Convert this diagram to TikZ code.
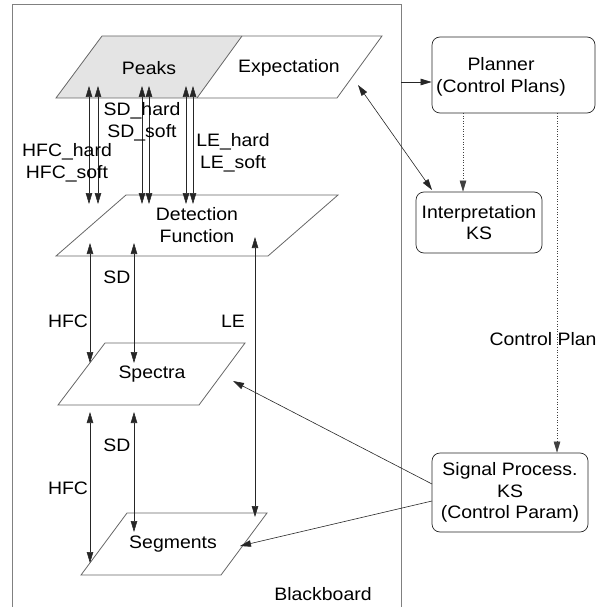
\documentclass[tikz,border=0pt]{standalone}
\usepackage{fontspec}
\setmainfont{Liberation Sans}[FakeStretch=1.08]
\usetikzlibrary{arrows.meta}
\definecolor{peakfill}{RGB}{228,228,228}
\begin{document}
\begin{tikzpicture}[x=1pt,y=-1pt,
  plane/.style={draw=black!60, line width=0.8pt},
  bb/.style={draw=black!50, line width=1pt},
  tipa/.tip={Triangle[length=11pt,width=6.5pt]},
  arr/.style={draw=black!85, line width=0.6pt, tipa-tipa},
  sarr/.style={draw=black!85, line width=0.6pt, -tipa},
  dots/.style={draw=black!75, line width=0.6pt, dotted, -tipa},
  lbl/.style={font=\fontsize{18}{21.5}\selectfont, align=center, inner sep=0pt},
  ks/.style={draw=black!85, rounded corners=8pt, line width=0.7pt, inner sep=0pt}]
\useasboundingbox (0,0) rectangle (597,607);

% Blackboard frame
\draw[bb] (12,607) -- (12,5) -- (401,5) -- (401,607);
\node[lbl] (bbtext) at (323,594) {Blackboard};

% Peaks / Expectation plane
\fill[peakfill] (102,36) -- (242,36) -- (197,98) -- (56,98) -- cycle;
\draw[plane] (102,36) -- (382,36) -- (337,98) -- (56,98) -- cycle;
\draw[plane] (242,36) -- (197,98);
\node[lbl] (peaks) at (149,68) {Peaks};
\node[lbl] (expect) at (289,68) {Expectation};

% Detection function plane
\draw[plane] (126,195) -- (338,195) -- (268,256) -- (56,256) -- cycle;
\node[lbl] (detect) at (197,225) {Detection\\Function};

% Spectra plane
\draw[plane] (105,343) -- (245,343) -- (199,405) -- (58,405) -- cycle;
\node[lbl] (spectra) at (152,374) {Spectra};

% Segments plane
\draw[plane] (127,513) -- (267,513) -- (221,575) -- (81,575) -- cycle;
\node[lbl] (segments) at (173,544) {Segments};

% Peaks <-> Detection arrows
\foreach \x [count=\i] in {89,98,142,149,186,193} {
  \coordinate (pk\i) at (\x,86);
  \coordinate (df\i) at (\x,204);
  \draw[arr] (df\i) -- (pk\i);
}
\node[lbl] (hfchs) at (67,163) {HFC\_hard\\HFC\_soft};
\node[lbl] (sdhs) at (142,122) {SD\_hard\\SD\_soft};
\node[lbl] (lehs) at (233,153) {LE\_hard\\LE\_soft};

% Detection <-> Spectra / Segments
\coordinate (dfH) at (90,243);  \coordinate (spH) at (90,363);
\coordinate (dfS) at (134,243); \coordinate (spS) at (134,363);
\coordinate (dfL) at (255,237); \coordinate (sgL) at (255,517);
\draw[arr] (dfH) -- (spH);
\draw[arr] (dfS) -- (spS);
\draw[arr] (dfL) -- (sgL);
\node[lbl] (sd1) at (117,277) {SD};
\node[lbl] (hfc1) at (68,321) {HFC};
\node[lbl] (le1) at (233,321) {LE};

% Spectra <-> Segments
\coordinate (spH2) at (90,412);  \coordinate (sgH) at (90,563);
\coordinate (spS2) at (134,412); \coordinate (sgS) at (134,532);
\draw[arr] (spH2) -- (sgH);
\draw[arr] (spS2) -- (sgS);
\node[lbl] (sd2) at (117,445) {SD};
\node[lbl] (hfc2) at (68,488) {HFC};

% Knowledge sources
\node[ks, minimum width=163pt, minimum height=76pt] (planner) at (513.5,75) {};
\node[lbl] (plannertext) at (501,77) {Planner\\(Control Plans)};
\node[ks, minimum width=126pt, minimum height=61pt, lbl, draw=black!85, rounded corners=8pt] (interp) at (479,222.5) {Interpretation\\KS};
\node[ks, minimum width=156pt, minimum height=79pt, lbl, draw=black!85, rounded corners=8pt] (signal) at (510,492.5) {Signal Process.\\KS\\(Control Param)};

% Connectors on the right
\coordinate (bbR) at (401,82);
\draw[sarr] (bbR) -- (planner.west |- bbR);
\coordinate (expE) at (358,85);
\coordinate (intNW) at (432,190);
\draw[arr] (expE) -- (intNW);
\coordinate (plS1) at (463,113);
\draw[dots] (plS1) -- (plS1 |- interp.north);
\coordinate (plS2) at (557,113);
\draw[dots] (plS2) -- (plS2 |- signal.north);
\node[lbl] (cplan) at (543,339) {Control Plan};
\coordinate (sigW1) at (432,484);
\coordinate (spE) at (233,381);
\draw[sarr] (sigW1) -- (spE);
\coordinate (sigW2) at (432,501);
\coordinate (sgE) at (240,546);
\draw[sarr] (sigW2) -- (sgE);
\end{tikzpicture}
\end{document}
